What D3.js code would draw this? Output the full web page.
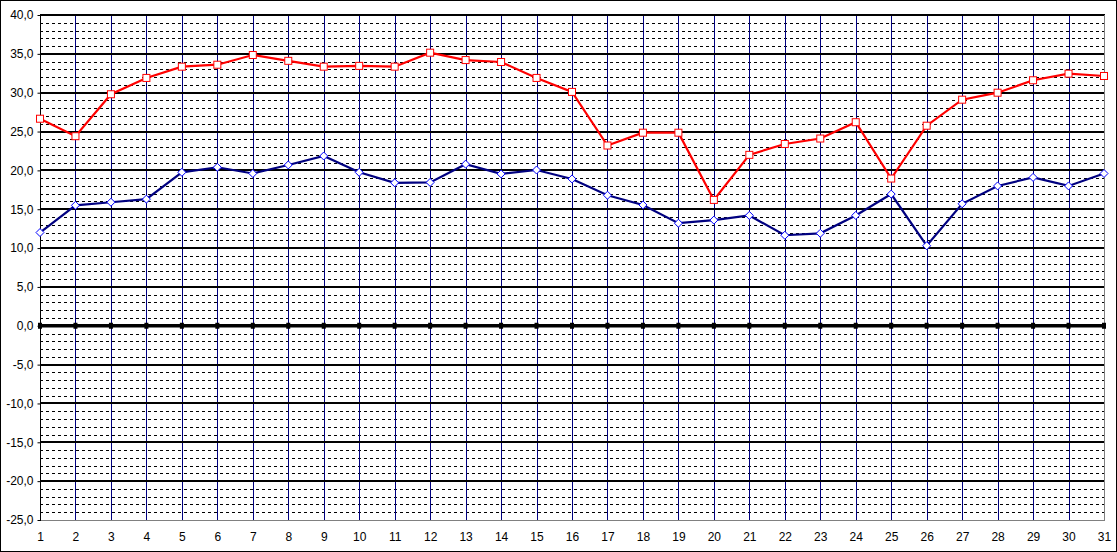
<!DOCTYPE html>
<html><head><meta charset="utf-8">
<script src="https://cdn.jsdelivr.net/npm/d3@7"></script>
<style>html,body{margin:0;padding:0;background:#fff;}svg{display:block;}</style>
</head><body>
<svg id="c" width="1117" height="552"></svg>
<script>
const days = d3.range(1, 32);
const maxTemp = [26.65,24.4,29.8,31.9,33.35,33.6,34.85,34.1,33.35,33.45,33.35,35.15,34.2,33.95,31.9,30.1,23.2,24.85,24.85,16.2,22.0,23.4,24.1,26.2,18.95,25.75,29.1,30.0,31.6,32.45,32.15];
const minTemp = [12.0,15.5,15.9,16.3,19.75,20.4,19.6,20.7,21.85,19.75,18.4,18.45,20.8,19.55,20.05,18.9,16.8,15.55,13.2,13.6,14.2,11.65,11.9,14.2,16.95,10.3,15.7,18.0,19.1,18.0,19.6];
const zeroSeries = days.map(() => 0);
const yTicks = d3.range(-25, 40.1, 5);
const yMinor = d3.range(-25, 40.1, 1);

const svg = d3.select("#c");
const W = 1117, H = 552;
const L = 40, R = 1104, T = 15, B = 520;
const x = d3.scaleLinear().domain([1, 31]).range([L, R]);
const y = d3.scaleLinear().domain([-25, 40]).range([B, T]);

svg.append("rect").attr("x", 0.5).attr("y", 0.5).attr("width", W - 1).attr("height", H - 1)
  .attr("fill", "#fff").attr("stroke", "#000");

const g = svg.append("g");
// minor dashed
g.selectAll(".minor").data(yMinor.filter(v => v % 5 !== 0)).join("line")
  .attr("x1", L).attr("x2", R).attr("y1", d => Math.round(y(d)) + 0.5).attr("y2", d => Math.round(y(d)) + 0.5)
  .attr("stroke", "#000").attr("stroke-width", 1).attr("stroke-dasharray", "3,3");
// vertical navy
g.selectAll(".vl").data(days.slice(1, 30)).join("line")
  .attr("x1", d => Math.round(x(d)) + 0.5).attr("x2", d => Math.round(x(d)) + 0.5).attr("y1", T).attr("y2", B)
  .attr("stroke", "#000080").attr("stroke-width", 1);
// major lines
g.selectAll(".major").data(yTicks.filter(v => v !== 0 && v !== -25)).join("line")
  .attr("x1", L).attr("x2", R).attr("y1", d => Math.round(y(d))).attr("y2", d => Math.round(y(d)))
  .attr("stroke", "#000").attr("stroke-width", 2);
// top line at 40
g.append("line").attr("x1", L).attr("x2", R + 1).attr("y1", T).attr("y2", T).attr("stroke", "#000").attr("stroke-width", 2);
// plot border right/bottom gray
g.append("line").attr("x1", R + 0.5).attr("x2", R + 0.5).attr("y1", T).attr("y2", B + 0.5).attr("stroke", "#808080");
g.append("line").attr("x1", L).attr("x2", R + 1).attr("y1", B + 0.5).attr("y2", B + 0.5).attr("stroke", "#808080");

// y axis
const yAxis = d3.axisLeft(y).tickValues(yTicks).tickSize(3).tickPadding(4)
  .tickFormat(d => d3.format(".1f")(d).replace(".", ",").replace("−", "-"));
const ya = svg.append("g").attr("transform", `translate(${L + 0.5},0)`).call(yAxis);
ya.select(".domain").attr("stroke", "#000").attr("d", `M0,${T}V${B + 1}`);
ya.selectAll("text").attr("font-family", "Liberation Sans, Arial, sans-serif").attr("font-size", 12).attr("fill", "#000");
ya.selectAll(".tick line").attr("stroke", "#000");

// x axis labels
const xAxis = d3.axisBottom(x).tickValues(days).tickSize(0).tickPadding(12).tickFormat(d3.format("d"));
const xa = svg.append("g").attr("transform", `translate(0,${B})`).call(xAxis);
xa.select(".domain").remove();
xa.selectAll("text").attr("font-family", "Liberation Sans, Arial, sans-serif").attr("font-size", 12).attr("fill", "#000");

// zero line with markers
g.append("line").attr("x1", L).attr("x2", R).attr("y1", y(0)).attr("y2", y(0)).attr("stroke", "#000").attr("stroke-width", 3.5);
g.selectAll(".zm").data(zeroSeries).join("rect")
  .attr("x", (d, i) => x(days[i]) - 2).attr("y", d => y(d) - 3).attr("width", 4).attr("height", 6).attr("fill", "#000");

const line = d3.line().x((d, i) => x(days[i])).y(d => y(d));
// min series
svg.append("path").datum(minTemp).attr("d", line).attr("fill", "none").attr("stroke", "#000080").attr("stroke-width", 2.2);
svg.selectAll(".dm").data(minTemp).join("path")
  .attr("transform", (d, i) => `translate(${x(days[i])},${y(d)})`)
  .attr("d", "M0,-4L4,0L0,4L-4,0Z").attr("fill", "#fff").attr("stroke", "#0000ff").attr("stroke-width", 1);
// max series
svg.append("path").datum(maxTemp).attr("d", line).attr("fill", "none").attr("stroke", "#ff0000").attr("stroke-width", 2.2);
svg.selectAll(".sm").data(maxTemp).join("rect")
  .attr("x", (d, i) => x(days[i]) - 3.5).attr("y", d => y(d) - 3.5).attr("width", 7).attr("height", 7)
  .attr("fill", "#fff").attr("stroke", "#ff0000").attr("stroke-width", 1);
</script>
</body></html>
